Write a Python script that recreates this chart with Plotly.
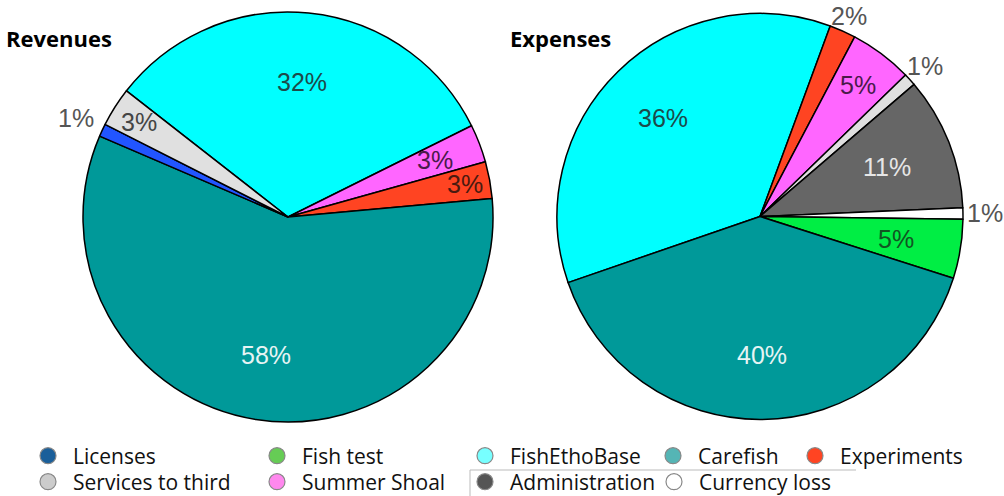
import math
import plotly.graph_objects as go

# ---------------- data ----------------
rev_labels = ["FishEthoBase", "Summer Shoal", "Experiments", "Carefish", "Licenses", "Services to third"]
rev_values = [32.1, 3.0, 2.9, 57.9, 1.0, 3.1]

exp_labels = ["FishEthoBase", "Experiments", "Summer Shoal", "Services to third",
              "Administration", "Currency loss", "Fish test", "Carefish"]
exp_values = [35.9, 2.1, 5.0, 1.0, 10.6, 0.9, 4.7, 39.8]

legend_names = ["Licenses", "Services to third", "Fish test", "Summer Shoal",
                "FishEthoBase", "Administration", "Carefish", "Currency loss", "Experiments"]

# ---------------- styles ----------------
rev_colors = ["#00ffff", "#ff66ff", "#ff4422", "#009999", "#2255ff", "#e0e0e0"]
rev_textcol = ["#1d4a4a", "#4a1a4a", "#4a1a10", "#e6f4f4", "#555555", "#444444"]
rev_label_r = [0.66, 0.77, 0.88, 0.68, 1.14, 0.86]

exp_colors = ["#00ffff", "#ff4422", "#ff66ff", "#e0e0e0", "#666666", "#ffffff", "#00ee44", "#009999"]
exp_textcol = ["#1d4a4a", "#555555", "#4a1a4a", "#555555", "#e6e6e6", "#555555", "#115522", "#e6f4f4"]
exp_label_r = [0.68, 1.08, 0.81, 1.1, 0.67, 1.11, 0.68, 0.68]

legend_colors = ["#1a5f9a", "#cccccc", "#66cc55", "#ff88ee",
                 "#77ffff", "#555555", "#55b5b5", "#ffffff", "#ff4422"]
# circle centres of the legend entries (px)
legend_pos = [(48, 456), (48, 482), (277, 456), (277, 482),
              (485, 456), (485, 482), (673, 456), (674, 482), (815, 456)]

W, H = 1004, 496
rev_box = (83, 493, 12, 422)    # px: left, right, top, bottom
exp_box = (557, 963, 13, 420)
rev_rotation = -52
exp_rotation = -109

fig = go.Figure()


def add_pie(labels, values, colors, box, rotation):
    x0, x1, y0, y1 = box
    fig.add_trace(go.Pie(
        labels=labels, values=values, sort=False, direction="clockwise",
        rotation=rotation, marker=dict(colors=colors, line=dict(color="black", width=1.5)),
        textinfo="none",
        domain=dict(x=[x0 / W, x1 / W], y=[1 - y1 / H, 1 - y0 / H]),
        showlegend=False, hoverinfo="label+percent",
    ))


def pie_labels(values, box, rotation, radii, colors):
    """Percent labels placed at each slice's mid-angle (derived from the data)."""
    x0, x1, y0, y1 = box
    cx, cy = (x0 + x1) / 2, (y0 + y1) / 2
    R = min(x1 - x0, y1 - y0) / 2
    total = sum(values)
    start = 90 - rotation
    cum = 0.0
    anns = []
    for v, rf, col in zip(values, radii, colors):
        mid = math.radians(start - 360 * (cum + v / 2) / total)
        cum += v
        px = cx + rf * R * math.cos(mid)
        py = cy - rf * R * math.sin(mid)
        anns.append(dict(
            text=f"{round(100 * v / total)}%", x=px / W, y=1 - py / H,
            xref="paper", yref="paper", xanchor="center", yanchor="middle",
            showarrow=False, font=dict(family="Liberation Sans", size=25, color=col),
        ))
    return anns


add_pie(rev_labels, rev_values, rev_colors, rev_box, rev_rotation)
add_pie(exp_labels, exp_values, exp_colors, exp_box, exp_rotation)

annotations = pie_labels(rev_values, rev_box, rev_rotation, rev_label_r, rev_textcol)
annotations += pie_labels(exp_values, exp_box, exp_rotation, exp_label_r, exp_textcol)
annotations += [
    dict(text="<b>Revenues</b>", x=4 / W, y=1 - 38 / H, xref="paper", yref="paper",
         xanchor="left", yanchor="middle", showarrow=False,
         font=dict(family="Open Sans", size=22, color="black")),
    dict(text="<b>Expenses</b>", x=508 / W, y=1 - 38 / H, xref="paper", yref="paper",
         xanchor="left", yanchor="middle", showarrow=False,
         font=dict(family="Open Sans", size=22, color="black")),
]

# legend entries (circle markers), one small legend per entry
layout_legends = {}
for i, (name, col) in enumerate(zip(legend_names, legend_colors)):
    key = "legend" if i == 0 else f"legend{i + 1}"
    fig.add_trace(go.Scatter(
        x=[None], y=[None], mode="markers", name=name,
        marker=dict(symbol="circle", size=17, color=col, line=dict(color="#888888", width=1.2)),
        legend=key, showlegend=True,
    ))
    px, py = legend_pos[i]
    layout_legends[key] = dict(
        x=(px - 25) / W, y=1 - py / H, xanchor="left", yanchor="middle",
        bgcolor="rgba(0,0,0,0)", borderwidth=0, itemwidth=40,
        font=dict(family="Open Sans", size=21, color="#111111"),
        itemclick=False, itemdoubleclick=False,
    )

fig.update_layout(
    width=W, height=H,
    margin=dict(l=0, r=0, t=0, b=0, autoexpand=False),
    paper_bgcolor="white", plot_bgcolor="white",
    xaxis=dict(visible=False), yaxis=dict(visible=False),
    annotations=annotations,
    shapes=[
        dict(type="line", xref="paper", yref="paper", x0=470 / W, x1=856 / W,
             y0=1 - 470 / H, y1=1 - 470 / H, line=dict(color="#bbbbbb", width=1)),
        dict(type="line", xref="paper", yref="paper", x0=470 / W, x1=470 / W,
             y0=1 - 470 / H, y1=0, line=dict(color="#bbbbbb", width=1)),
    ],
    **layout_legends,
)

fig.write_html(
    "out.html",
    config={"displayModeBar": False},
    post_script="document.body.style.margin='0px';document.body.style.overflow='hidden';",
)
